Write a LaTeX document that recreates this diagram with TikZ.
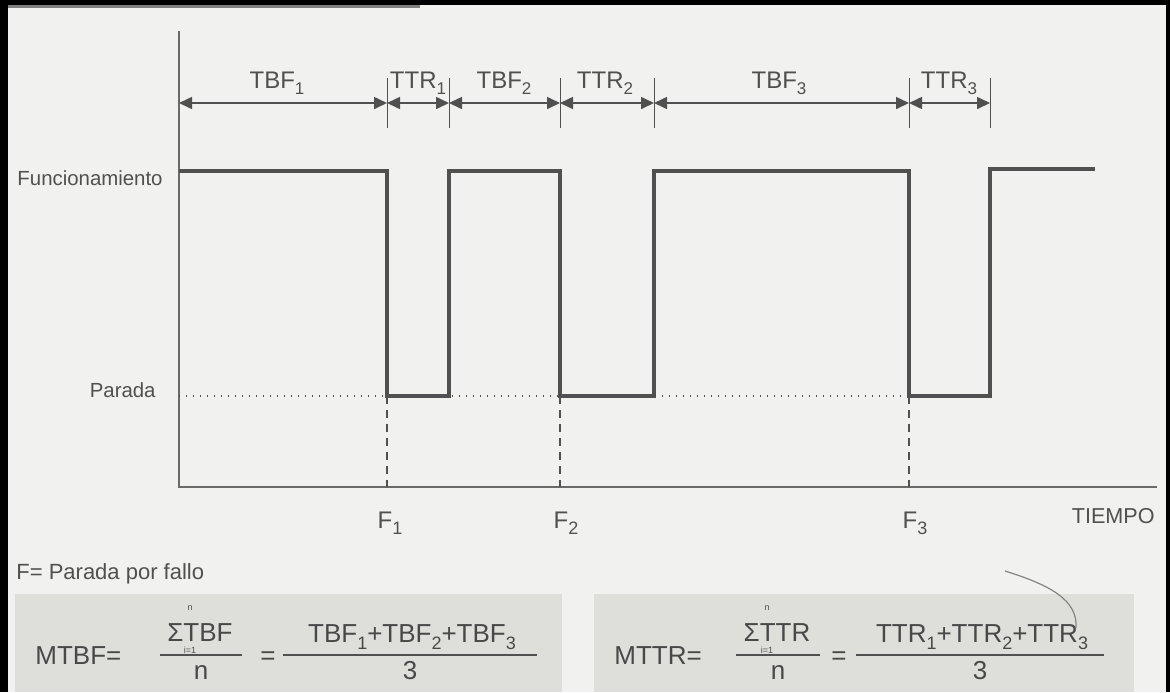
\documentclass[tikz,border=0pt]{standalone}
\usepackage{fontspec}
\setmainfont{Liberation Sans}
\usetikzlibrary{arrows.meta}
\definecolor{ink}{HTML}{505050}
\definecolor{paper}{HTML}{F1F1EF}
\definecolor{boxg}{HTML}{DEDEDA}
\newcommand\sbs[2][8.5]{\raisebox{-0.55ex}{\fontsize{#1}{#1}\selectfont #2}}
\tikzset{
  axisline/.style={draw=ink!85, line width=0.8pt},
  sig/.style={draw=ink, line width=1.6pt},
  dotline/.style={draw=ink, line width=0.8pt, dash pattern=on 0.7pt off 2.8pt},
  dashline/.style={draw=ink, line width=0.7pt, dash pattern=on 4pt off 3pt},
  tickline/.style={draw=ink, line width=0.5pt},
  dim/.style={draw=ink, line width=0.8pt, {Triangle[length=6.5pt,width=6pt]}-{Triangle[length=6.5pt,width=6pt]}},
  lab/.style={text=ink, inner sep=0pt, anchor=base, font=\fontsize{12}{14}\selectfont},
  ylab/.style={text=ink, inner sep=0pt, anchor=base east, font=\fontsize{10.2}{12}\selectfont},
  flab/.style={text=ink, inner sep=0pt, anchor=base, font=\fontsize{12}{14}\selectfont},
  form/.style={text=ink!90!black, inner sep=0pt, anchor=base, font=\fontsize{13}{15}\selectfont},
  tiny/.style={text=ink, inner sep=0pt, anchor=base, font=\fontsize{4.5}{5}\selectfont},
  frac/.style={draw=ink, line width=0.8pt}
}
\begin{document}
\begin{tikzpicture}[x=0.5pt,y=-0.5pt]
\useasboundingbox (0,0) rectangle (1170,692);
\fill[paper] (0,0) rectangle (1170,692);
% frame of the scan
\fill[black] (0,0) rectangle (8,692);
\fill[black] (0,0) rectangle (1170,5);
\fill[black] (1166,0) rectangle (1170,692);
\fill[black!50] (8,5) rectangle (420,8);
% formula boxes
\fill[boxg] (15,594) rectangle (562,692);
\fill[boxg] (594,594) rectangle (1134,692);

% key points
\coordinate (o) at (179,487);
\coordinate (ytop) at (179,31);
\coordinate (xend) at (1157,487);
\foreach \n/\x in {a/387,b/449,c/560,d/654,e/909,f/990}{
  \coordinate (hi\n) at (\x,171);
  \coordinate (lo\n) at (\x,396);
  \coordinate (ax\n) at (\x,487);
  \coordinate (tt\n) at (\x,78);
  \coordinate (tb\n) at (\x,128);
  \coordinate (dm\n) at (\x,103);
}
\coordinate (hi0) at (179,171);
\coordinate (lo0) at (179,396);
\coordinate (dm0) at (179,103);
\coordinate (hiend) at (1095,169);

% axes
\draw[axisline] (ytop) -- (o) -- (xend);
% signal
\draw[sig, line join=miter] (hi0) -- (hia) -- (loa) -- (lob) -- (hib) -- (hic) -- (loc) -- (lod) -- (hid) -- (hie) -- (loe) -- (lof) -- (hif |- hiend) -- (hiend);
% dotted Parada level
\draw[dotline] (lo0) -- (loe);
% dashed failure lines
\draw[dashline] (loa) -- (axa);
\draw[dashline] (loc) -- (axc);
\draw[dashline] (loe) -- (axe);
% ticks
\foreach \n in {a,b,c,d,e,f}{\draw[tickline] (tt\n) -- (tb\n);}
% dimension arrows
\draw[dim] (dm0) -- (dma);
\draw[dim] (dma) -- (dmb);
\draw[dim] (dmb) -- (dmc);
\draw[dim] (dmc) -- (dmd);
\draw[dim] (dmd) -- (dme);
\draw[dim] (dme) -- (dmf);
% interval labels
\node[lab] (l1) at (277,88) {TBF\sbs{1}};
\node[lab] (l2) at (418,88) {TTR\sbs{1}};
\node[lab] (l3) at (504,88) {TBF\sbs{2}};
\node[lab] (l4) at (605,88) {TTR\sbs{2}};
\node[lab] (l5) at (779,88) {TBF\sbs{3}};
\node[lab] (l6) at (949,88) {TTR\sbs{3}};
% level labels
\node[ylab] (fun) at (163,185) {Funcionamiento};
\node[ylab] (par) at (156,397) {Parada};
% failure labels
\node[flab] (f1) at (390,528) {F\sbs[9]{1}};
\node[flab] (f2) at (566,528) {F\sbs[9]{2}};
\node[flab] (f3) at (915,528) {F\sbs[9]{3}};
\node[text=ink, inner sep=0pt, anchor=base east, font=\fontsize{10.8}{12}\selectfont] (tiempo) at (1155,523) {TIEMPO};
\node[text=ink, inner sep=0pt, anchor=base west, font=\fontsize{11}{13}\selectfont] (leg) at (16,579) {F= Parada por fallo};

% MTBF formula
\node[form, anchor=base west] (mtbf) at (35,664) {MTBF=};
\node[form, text depth=0pt] (s1) at (200,641) {ΣTBF};
\node[tiny] (s1n) at (190,610) {n};
\node[tiny] (s1i) at (190,653) {i=1};
\coordinate (f1l) at (160,655);
\coordinate (f1r) at (242,655);
\draw[frac] (f1l) -- (f1r);
\node[form] (n1) at (201,679) {n};
\node[form] (eq1) at (268,664) {=};
\coordinate (g1l) at (283,655);
\coordinate (g1r) at (537,655);
\draw[frac] (g1l) -- (g1r);
\node[form] (num1) at (412,642) {TBF\sbs[9]{1}+TBF\sbs[9]{2}+TBF\sbs[9]{3}};
\node[form] (d1) at (410,679) {3};

% MTTR formula
\node[form, anchor=base west] (mttr) at (614,664) {MTTR=};
\node[form, text depth=0pt] (s2) at (777,641) {ΣTTR};
\node[tiny] (s2n) at (767,610) {n};
\node[tiny] (s2i) at (767,653) {i=1};
\coordinate (f2l) at (736,655);
\coordinate (f2r) at (820,655);
\draw[frac] (f2l) -- (f2r);
\node[form] (n2) at (778,679) {n};
\node[form] (eq2) at (839,664) {=};
\coordinate (g2l) at (856,655);
\coordinate (g2r) at (1104,655);
\draw[frac] (g2l) -- (g2r);
\node[form] (num2) at (982,642) {TTR\sbs[9]{1}+TTR\sbs[9]{2}+TTR\sbs[9]{3}};
\node[form] (d2) at (980,679) {3};

% stray pencil stroke
\coordinate (pa) at (1005,571);
\coordinate (pb) at (1076,628);
\draw[draw=ink!70, line width=0.6pt] (pa) .. controls (1050,585) and (1078,600) .. (pb);
\end{tikzpicture}
\end{document}
